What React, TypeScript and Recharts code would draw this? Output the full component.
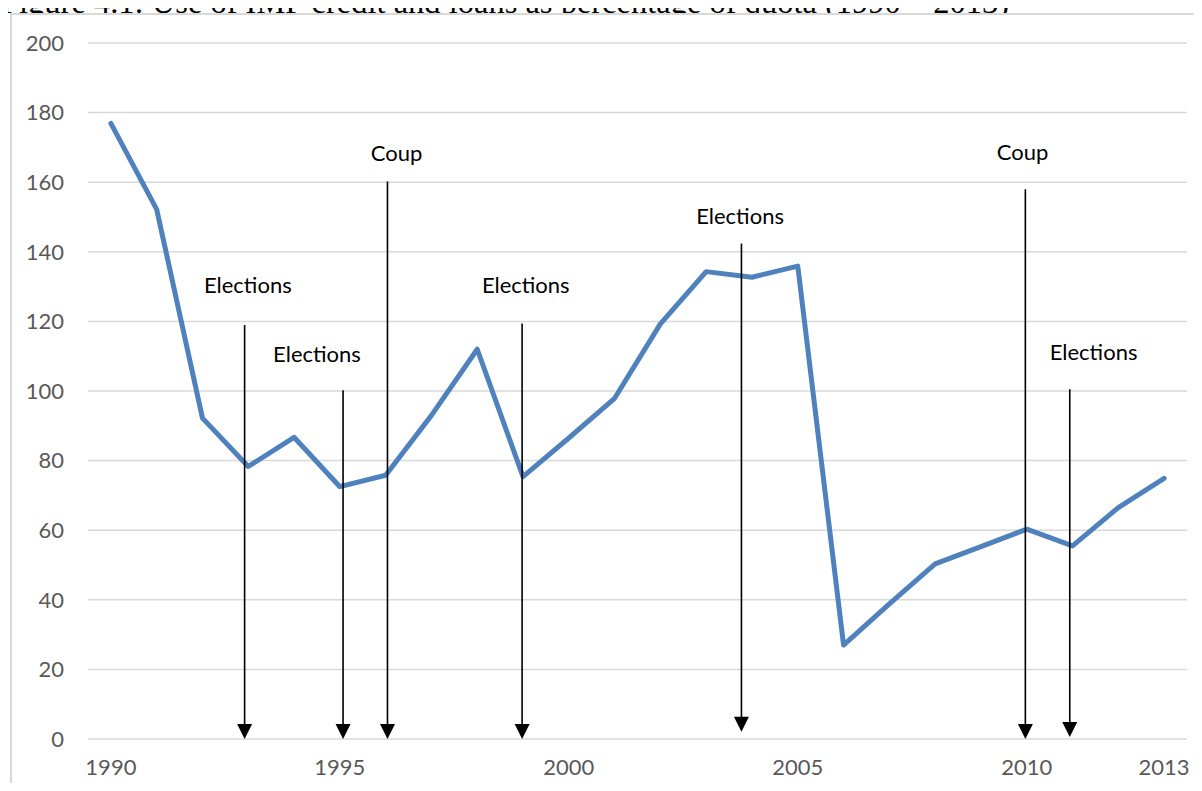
import React from 'react';
import {
  LineChart,
  Line,
  XAxis,
  YAxis,
  CartesianGrid,
  ReferenceLine,
  ReferenceDot,
} from 'recharts';

// Use of IMF credit and loans, % of quota
const years = [
  1990, 1991, 1992, 1993, 1994, 1995, 1996, 1997, 1998, 1999, 2000, 2001,
  2002, 2003, 2004, 2005, 2006, 2007, 2008, 2009, 2010, 2011, 2012, 2013,
];
const quotaPct = [
  176.9, 152.2, 92.2, 78.3, 86.7, 72.5, 75.8, 93.0, 112.0, 75.4, 86.5, 97.9,
  119.3, 134.3, 132.7, 135.9, 27.0, 38.8, 50.3, 55.3, 60.3, 55.5, 66.5, 74.9,
];

const xTicks = [1990, 1995, 2000, 2005, 2010, 2013];
const yTicks = [0, 20, 40, 60, 80, 100, 120, 140, 160, 180, 200];

// Event arrows: year position, top of shaft and tip (in % of quota)
const arrowYears = [1992.92, 1995.07, 1996.04, 1998.98, 2003.77, 2009.97, 2010.94];
const arrowTops = [119, 100.2, 160.2, 119.4, 142.4, 158, 100.5];
const arrowTips = [0, 0, 0, 0, 2.1, 0, 0.6];

// Event captions
const eventNames = ['Elections', 'Elections', 'Coup', 'Elections', 'Elections', 'Coup', 'Elections'];
const eventLabelYears = [1992.99, 1994.5, 1996.24, 1999.06, 2003.74, 2009.91, 2011.46];
const eventLabelValues = [130.7, 110.9, 168.4, 130.7, 150.3, 168.8, 111.3];

const data = years.map((year, i) => ({ year, value: quotaPct[i] }));

const FONT = 'Lato, "Open Sans", sans-serif';

const ArrowShape = (props: any) => {
  const { x1, y1, x2, y2 } = props;
  const x = (x1 + x2) / 2;
  const top = Math.min(y1, y2);
  const tip = Math.max(y1, y2);
  const headH = 15;
  const headW = 15;
  return (
    <g>
      <line x1={x} y1={top} x2={x} y2={tip - headH + 1} stroke="#000" strokeWidth={1.6} />
      <polygon
        points={`${x - headW / 2},${tip - headH} ${x + headW / 2},${tip - headH} ${x},${tip}`}
        fill="#000"
      />
    </g>
  );
};

const makeCaption = (text: string) => (props: any) => {
  const { cx, cy } = props;
  return (
    <text
      x={cx}
      y={cy}
      textAnchor="middle"
      dominantBaseline="central"
      fontFamily={FONT}
      fontSize={22}
      fill="#000"
    >
      {text}
    </text>
  );
};

export default function App() {
  return (
    <div
      style={{
        position: 'relative',
        margin: -8,
        width: 1202,
        height: 791,
        overflow: 'hidden',
        background: '#fff',
      }}
    >
      <div
        style={{
          position: 'absolute',
          left: 1,
          top: -18.5,
          fontFamily: '"Liberation Serif", "Times New Roman", serif',
          fontSize: 32.5,
          lineHeight: '40px',
          whiteSpace: 'nowrap',
          color: '#000',
        }}
      >
        Figure 4.1: Use of IMF credit and loans as percentage of quota (1990 – 2013)
      </div>
      <div
        style={{
          position: 'absolute',
          left: 10,
          top: 12.5,
          width: 1400,
          height: 1000,
          border: '2px solid #d9d9d9',
          background: '#fff',
          boxSizing: 'border-box',
        }}
      />
      <div style={{ position: 'absolute', left: 0, top: 0 }}>
        <LineChart
          width={1202}
          height={791}
          data={data}
          margin={{ top: 43, right: 15, bottom: 12, left: 28 }}
        >
          <CartesianGrid vertical={false} stroke="#d9d9d9" strokeWidth={1.5} />
          <XAxis
            dataKey="year"
            type="number"
            domain={[1989.5, 2013.5]}
            ticks={xTicks}
            interval={0}
            axisLine={false}
            tickLine={false}
            tickMargin={14}
            height={40}
            tick={{ fontFamily: FONT, fontSize: 22, fill: '#595959' }}
          />
          <YAxis
            type="number"
            domain={[0, 200]}
            ticks={yTicks}
            interval={0}
            axisLine={false}
            tickLine={false}
            tickMargin={18}
            width={60}
            tick={{ fontFamily: FONT, fontSize: 22, fill: '#595959' }}
          />
          <Line
            type="linear"
            dataKey="value"
            stroke="#4f81bd"
            strokeWidth={5}
            strokeLinecap="round"
            strokeLinejoin="round"
            dot={false}
            activeDot={false}
            isAnimationActive={false}
          />
          {arrowYears.map((yr, i) => (
            <ReferenceLine
              key={`arrow-${i}`}
              segment={[
                { x: yr, y: arrowTops[i] },
                { x: yr, y: arrowTips[i] },
              ]}
              ifOverflow="visible"
              shape={ArrowShape}
            />
          ))}
          {eventNames.map((name, i) => (
            <ReferenceDot
              key={`caption-${i}`}
              x={eventLabelYears[i]}
              y={eventLabelValues[i]}
              r={0}
              ifOverflow="visible"
              shape={makeCaption(name)}
            />
          ))}
        </LineChart>
      </div>
    </div>
  );
}
